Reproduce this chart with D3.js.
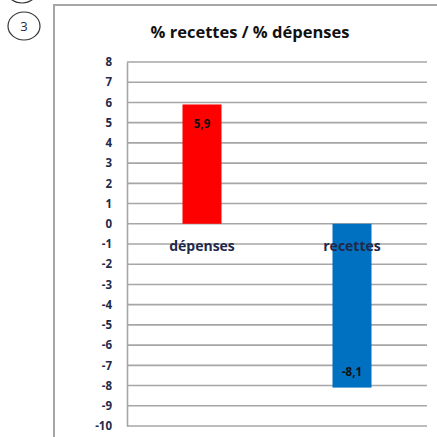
<!DOCTYPE html>
<html>
<head>
<meta charset="utf-8">
<script src="https://cdn.jsdelivr.net/npm/d3@7"></script>
<style>
  html, body { margin: 0; padding: 0; background: #fff; }
  svg { display: block; }
  text { font-family: "Open Sans", "Noto Sans", sans-serif; }
</style>
</head>
<body>
<svg id="chart" width="437" height="437"></svg>
<script>
// Variation rates (%)
const categories = ["dépenses", "recettes"];
const values = [5.9, -8.1];
const valueLabels = ["5,9", "-8,1"];
const barColors = ["#ff0000", "#0070c0"];
const tickValues = [8, 7, 6, 5, 4, 3, 2, 1, 0, -1, -2, -3, -4, -5, -6, -7, -8, -9, -10];
const title = "% recettes / % dépenses";
const badge = "3";

const svg = d3.select("#chart");
const FONT = "'Open Sans', 'Noto Sans', sans-serif";

// Frame around the chart block
svg.append("path")
  .attr("d", "M54,437 V5 H437")
  .attr("fill", "none")
  .attr("stroke", "#a6a6a6")
  .attr("stroke-width", 2);

// Section badge (previous one is cut off at the top)
svg.append("ellipse")
  .attr("cx", 22).attr("cy", -11).attr("rx", 16).attr("ry", 14)
  .attr("fill", "none").attr("stroke", "#333").attr("stroke-width", 1.2);
svg.append("ellipse")
  .attr("cx", 24).attr("cy", 26).attr("rx", 16).attr("ry", 14)
  .attr("fill", "none").attr("stroke", "#333").attr("stroke-width", 1.2);
svg.append("text")
  .attr("x", 24).attr("y", 31)
  .attr("text-anchor", "middle")
  .attr("font-family", FONT)
  .attr("font-size", 13)
  .attr("fill", "#1f2a4a")
  .text(badge);

// Title
svg.append("text")
  .attr("x", 250).attr("y", 38)
  .attr("text-anchor", "middle")
  .attr("font-family", FONT)
  .attr("font-size", 16.5)
  .attr("font-weight", 700)
  .attr("fill", "#111")
  .text(title);

const plot = { left: 127, right: 427, top: 62, bottom: 426 };

const y = d3.scaleLinear().domain([-10, 8]).range([plot.bottom, plot.top]);
const x = d3.scaleBand()
  .domain(categories)
  .range([plot.left, plot.right])
  .paddingInner(0.74)
  .paddingOuter(0.37);

// Horizontal gridlines
svg.append("g")
  .selectAll("line")
  .data(tickValues)
  .join("line")
  .attr("x1", plot.left).attr("x2", plot.right)
  .attr("y1", d => y(d)).attr("y2", d => y(d))
  .attr("stroke", "#a6a6a6")
  .attr("stroke-width", 1.6);

// Y axis
const yAxis = svg.append("g")
  .attr("transform", `translate(${plot.left},0)`)
  .call(d3.axisLeft(y).tickValues(tickValues).tickSize(0).tickPadding(15).tickFormat(d3.format("d")));
yAxis.select(".domain").attr("stroke", "#a6a6a6").attr("stroke-width", 1.6);
yAxis.selectAll("text")
  .attr("font-family", FONT)
  .attr("font-size", 11.5)
  .attr("font-weight", 700)
  .attr("fill", "#1f2a4a")
  .text(d => d < 0 ? "-" + Math.abs(d) : d);

// Bars
const data = categories.map((c, i) => ({ c, v: values[i], label: valueLabels[i], color: barColors[i] }));
svg.append("g")
  .selectAll("rect")
  .data(data)
  .join("rect")
  .attr("x", d => x(d.c))
  .attr("width", x.bandwidth())
  .attr("y", d => y(Math.max(0, d.v)))
  .attr("height", d => Math.abs(y(d.v) - y(0)))
  .attr("fill", d => d.color);

// Value labels inside the bar ends
svg.append("g")
  .selectAll("text")
  .data(data)
  .join("text")
  .attr("x", d => x(d.c) + x.bandwidth() / 2)
  .attr("y", d => d.v >= 0 ? y(d.v) + 24 : y(d.v) - 12)
  .attr("text-anchor", "middle")
  .attr("font-family", FONT)
  .attr("font-size", 11.5)
  .attr("font-weight", 700)
  .attr("fill", "#111")
  .text(d => d.label);

// Category labels just below the zero line
svg.append("g")
  .selectAll("text")
  .data(categories)
  .join("text")
  .attr("x", d => x(d) + x.bandwidth() / 2)
  .attr("y", y(0) + 27)
  .attr("text-anchor", "middle")
  .attr("font-family", FONT)
  .attr("font-size", 14)
  .attr("font-weight", 700)
  .attr("fill", "#1f2a4a")
  .text(d => d);
</script>
</body>
</html>
